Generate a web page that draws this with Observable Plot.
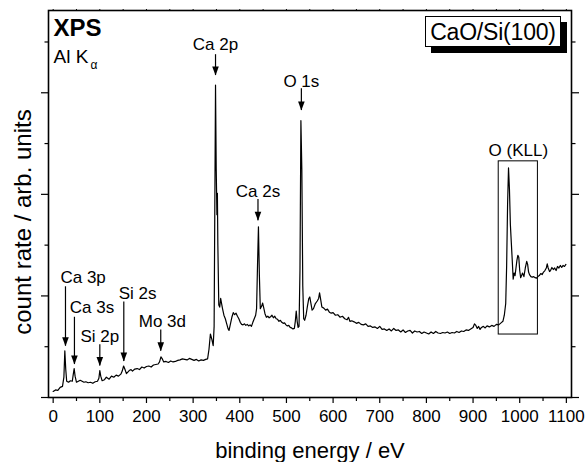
<!DOCTYPE html>
<html>
<head>
<meta charset="utf-8">
<script src="https://cdn.jsdelivr.net/npm/d3@7"></script>
<script src="https://cdn.jsdelivr.net/npm/@observablehq/plot@0.6"></script>
<style>
  body { margin: 0; background: #fff; }
  #wrap { position: relative; width: 587px; height: 462px; font-family: "Liberation Sans", Arial, sans-serif; }
  #legend { position: absolute; left: 425px; top: 16px; width: 134px; height: 29px; border: 1px solid #000; background: #fff;
    box-shadow: 6px 6px 0 #000; font-size: 23px; line-height: 30px; text-align: center; color: #000; letter-spacing: -0.2px; }
</style>
</head>
<body>
<div id="wrap"></div>
<script>
// spectrum: binding energy (eV) and count rate (arb. units)
const energy = [0,5,10,15,20,23,25,27,29,33,37,41,43,45,47,50,54,58,62,66,70,75,80,85,90,95,98,100,102,105,110,114,117,120,125,130,135,140,145,148,151,154,157,160,163,167,170,175,180,185,190,195,200,205,210,215,220,225,228,231,234,237,242,247,252,257,262,267,272,277,282,287,292,297,302,307,312,317,322,327,331,334,337,340,343,345,346,348,349.5,351,352,353,355,357,359,361,363,366,369,372,375,377,380,383,386,389,392,395,398,401,404,407,410,413,416,419,422,425,428,431,434,436,438,440,442,444,447,449,451,454,457,460,463,466,469,472,475,478,481,484,487,490,493,496,499,502,505,508,511,514,517,519,521,523,525,527,529,531,533,535,537,539,542,545,548,550,552,555,558,562,566,569,571,573,576,580,584,588,592,596,600,605,610,615,620,625,630,633,636,640,645,650,655,660,665,670,675,680,685,690,695,700,705,710,715,720,725,730,735,740,745,750,755,760,765,770,775,780,785,790,795,800,805,810,815,820,825,830,835,840,845,850,855,860,865,870,875,880,885,890,895,900,903,906,909,912,915,918,922,926,930,935,940,945,950,955,960,964,967,970,972,974,976,978,980,982,984,986,988,990,992,994,996,998,1000,1002,1004,1006,1009,1012,1015,1017,1019,1021,1024,1027,1030,1033,1036,1039,1042,1045,1048,1051,1054,1057,1059,1061,1064,1066,1069,1072,1075,1078,1081,1084,1087,1090,1093,1096,1099];
const counts = [0.12,0.15,0.14,0.20,0.22,0.40,0.92,0.55,0.32,0.30,0.33,0.32,0.45,0.57,0.42,0.30,0.32,0.34,0.32,0.30,0.31,0.29,0.30,0.28,0.31,0.32,0.38,0.53,0.42,0.33,0.35,0.40,0.38,0.36,0.42,0.40,0.44,0.42,0.46,0.52,0.62,0.55,0.47,0.50,0.53,0.55,0.52,0.56,0.57,0.55,0.60,0.58,0.61,0.62,0.60,0.64,0.65,0.66,0.70,0.80,0.76,0.70,0.71,0.69,0.72,0.70,0.71,0.73,0.74,0.76,0.75,0.74,0.77,0.75,0.73,0.75,0.72,0.74,0.73,0.75,0.76,0.95,1.25,1.15,1.02,1.40,3.0,6.15,4.5,3.6,4.02,3.0,1.82,1.78,1.95,1.85,1.75,1.62,1.55,1.45,1.35,1.32,1.45,1.58,1.67,1.63,1.66,1.60,1.55,1.48,1.44,1.43,1.45,1.42,1.44,1.41,1.43,1.40,1.48,1.55,1.62,1.75,2.6,3.36,2.4,1.75,1.80,1.86,1.78,1.65,1.58,1.60,1.57,1.59,1.62,1.57,1.60,1.55,1.54,1.50,1.52,1.48,1.46,1.47,1.43,1.41,1.42,1.38,1.37,1.35,1.36,1.50,1.70,1.50,1.38,1.40,2.5,5.45,4.5,2.2,1.55,1.52,1.62,1.80,1.95,1.98,1.88,1.72,1.75,1.85,1.90,1.95,2.06,1.95,1.78,1.76,1.72,1.74,1.68,1.66,1.67,1.62,1.63,1.58,1.60,1.55,1.53,1.58,1.50,1.51,1.49,1.46,1.48,1.44,1.43,1.45,1.40,1.41,1.38,1.39,1.36,1.40,1.34,1.35,1.32,1.35,1.31,1.36,1.32,1.33,1.29,1.33,1.28,1.31,1.32,1.27,1.31,1.29,1.30,1.26,1.29,1.27,1.25,1.29,1.26,1.30,1.27,1.26,1.28,1.27,1.29,1.26,1.28,1.27,1.30,1.28,1.31,1.30,1.33,1.32,1.35,1.38,1.45,1.42,1.36,1.40,1.34,1.38,1.40,1.37,1.41,1.39,1.42,1.40,1.44,1.43,1.47,1.50,1.62,1.85,2.6,3.8,4.52,4.1,3.4,3.05,2.7,2.33,2.45,2.40,2.55,2.70,2.80,2.76,2.50,2.36,2.40,2.45,2.38,2.55,2.68,2.62,2.47,2.42,2.38,2.37,2.38,2.36,2.35,2.38,2.40,2.44,2.42,2.47,2.50,2.55,2.63,2.55,2.48,2.50,2.56,2.52,2.55,2.50,2.58,2.55,2.60,2.56,2.60,2.58,2.62];

// peak labels (text) and their arrows
const labels      = ["Ca 2p", "O 1s", "Ca 2s", "Ca 3p", "Ca 3s", "Si 2p", "Si 2s", "Mo 3d"];
const labelE      = [348, 532, 439, 15.6, 35.6, 58.5, 140.6, 183.5];
const labelY      = [6.95, 6.22, 4.06, 2.37, 1.77, 1.20, 2.04, 1.50];
const labelAnchor = ["middle", "middle", "middle", "start", "start", "start", "start", "start"];
const arrowE      = [348, 532, 439, 26.4, 45.6, 100, 151.4, 230.6];
const arrowTop    = [6.75, 6.08, 3.90, 2.18, 1.58, 1.04, 1.88, 1.33];
const arrowTip    = [6.34, 5.65, 3.48, 1.01, 0.65, 0.62, 0.71, 0.91];

// O (KLL) region box
const kllLabel = "O (KLL)";
const kllE = [955, 1039];
const kllY = [1.24, 4.65];

const xMajor = d3.range(0, 1101, 100);
const xMinor = d3.range(50, 1100, 100);
const xTop   = d3.range(0, 1101, 50);
const yMajor = [0, 2, 4, 6];
const yMinor = [1, 3, 5, 7];

const spectrum = energy.map((e, i) => ({e, c: counts[i]}));
const peaks = labels.map((l, i) => ({l, le: labelE[i], ly: labelY[i], a: labelAnchor[i], ae: arrowE[i], at: arrowTop[i], tip: arrowTip[i]}));

const downTri = {draw(ctx) { ctx.moveTo(-3.3, -9); ctx.lineTo(3.3, -9); ctx.lineTo(0, 0); ctx.closePath(); }};
const blank = () => "";
const font = "'Liberation Sans', Arial, sans-serif";

const chart = Plot.plot({
  width: 587, height: 462,
  marginLeft: 48, marginRight: 16, marginTop: 10, marginBottom: 65,
  style: {fontFamily: font, fontSize: "17px", color: "#000", background: "#fff"},
  x: {domain: [-10, 1111]},
  y: {domain: [0, 7.62]},
  marks: [
    Plot.axisX({anchor: "bottom", ticks: xMajor, tickSize: 6, tickPadding: 6, fontSize: 17, tickFormat: d => String(d), label: null, strokeWidth: 1.2}),
    Plot.axisX({anchor: "bottom", ticks: xMinor, tickSize: 4, tickFormat: blank, label: null, strokeWidth: 1.2}),
    Plot.axisX({anchor: "top", ticks: xTop, tickSize: 2, tickFormat: blank, label: null}),
    Plot.axisY({anchor: "left", ticks: yMajor, tickSize: 7, tickFormat: blank, label: null, strokeWidth: 1.2}),
    Plot.axisY({anchor: "left", ticks: yMinor, tickSize: 3.5, tickFormat: blank, label: null, strokeWidth: 1.2}),
    Plot.axisY({anchor: "right", ticks: yMajor, tickSize: 7, tickFormat: blank, label: null, strokeWidth: 1.2}),
    Plot.axisY({anchor: "right", ticks: yMinor, tickSize: 3.5, tickFormat: blank, label: null, strokeWidth: 1.2}),
    Plot.frame({stroke: "#000", strokeWidth: 1.6}),
    Plot.rect([0], {x1: () => kllE[0], x2: () => kllE[1], y1: () => kllY[0], y2: () => kllY[1], fill: "none", stroke: "#000", strokeWidth: 1}),
    Plot.line(spectrum, {x: "e", y: "c", stroke: "#000", strokeWidth: 1.2}),
    Plot.ruleX(peaks, {x: "ae", y1: "at", y2: "tip", stroke: "#000", strokeWidth: 1.2}),
    Plot.dot(peaks, {x: "ae", y: "tip", symbol: downTri, fill: "#000", stroke: "none"}),
    Plot.text(peaks.filter(p => p.a === "middle"), {x: "le", y: "ly", text: "l", textAnchor: "middle", fontSize: 17, fill: "#000"}),
    Plot.text(peaks.filter(p => p.a === "start"), {x: "le", y: "ly", text: "l", textAnchor: "start", fontSize: 17, fill: "#000"}),
    Plot.text([kllLabel], {x: () => (kllE[0] + kllE[1]) / 2, y: 4.86, text: d => d, fontSize: 17, fill: "#000"}),
    Plot.text(["XPS"], {frameAnchor: "top-left", dx: 5, dy: 8, lineAnchor: "top", textAnchor: "start", fontSize: 24, fontWeight: "bold", fill: "#000"}),
    Plot.text(["Al K"], {frameAnchor: "top-left", dx: 5, dy: 39, lineAnchor: "top", textAnchor: "start", fontSize: 19, fill: "#000"}),
    Plot.text(["α"], {frameAnchor: "top-left", dx: 42, dy: 50, lineAnchor: "top", textAnchor: "start", fontSize: 12, fill: "#000"}),
    Plot.text(["binding energy / eV"], {frameAnchor: "bottom", dy: 53, lineAnchor: "middle", textAnchor: "middle", fontSize: 22, fill: "#000"}),
    Plot.text(["count rate / arb. units"], {frameAnchor: "left", dx: -25, dy: 18, rotate: -90, textAnchor: "middle", lineAnchor: "middle", fontSize: 24, fill: "#000"})
  ]
});

const wrap = document.getElementById("wrap");
wrap.appendChild(chart);
const legend = document.createElement("div");
legend.id = "legend";
legend.textContent = "CaO/Si(100)";
wrap.appendChild(legend);
</script>
</body>
</html>
